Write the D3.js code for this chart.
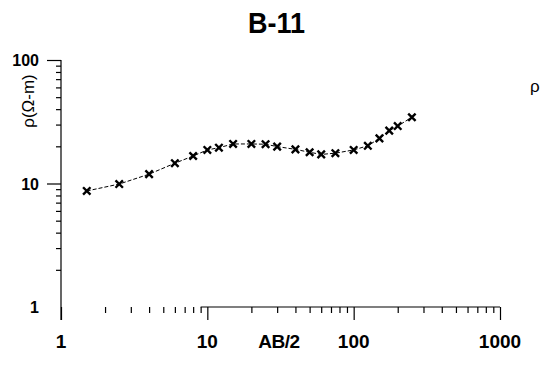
<!DOCTYPE html>
<html>
<head>
<meta charset="utf-8">
<script src="https://cdn.jsdelivr.net/npm/d3@7/dist/d3.min.js"></script>
<style>
  html, body { margin: 0; padding: 0; background: #fff; }
  svg { display: block; font-family: "Liberation Sans", Arial, Helvetica, sans-serif; }
</style>
</head>
<body>
<svg id="chart" width="541" height="367"></svg>
<script>
// ---- data ----
const title = "B-11";
const xLabel = "AB/2";
const yLabel = "ρ(Ω-m)";
const sideLabel = "ρ";
const abHalf = [1.5, 2.5, 4, 6, 8, 10, 12, 15, 20, 25, 30, 40, 50, 60, 75, 100, 125, 150, 175, 200, 250];
const rho    = [8.7, 9.9, 11.9, 14.6, 16.7, 18.7, 19.5, 20.9, 20.9, 20.8, 19.9, 18.9, 17.9, 17.2, 17.6, 18.7, 20.2, 23.2, 26.8, 29.2, 34.4];
const xMajorTicks = [1, 10, 100, 1000];
const xTickLabels = ["1", "10", "100", "1000"];
const yMajorTicks = [1, 10, 100];
const yTickLabels = ["1", "10", "100"];

// ---- layout ----
const svg = d3.select("#chart");
const x = d3.scaleLog().domain([1, 1000]).range([61, 500]);
const y = d3.scaleLog().domain([1, 100]).range([307, 60]);

const minorX = [];
for (let d = 1; d < 1000; d *= 10) for (let k = 2; k <= 9; k++) minorX.push(d * k);
const minorY = [];
for (let d = 1; d < 100; d *= 10) for (let k = 2; k <= 9; k++) minorY.push(d * k);

// x axis baseline (visible only from ~9 to 1000 in the scanned reference)
svg.append("line")
  .attr("x1", x(9)).attr("x2", x(1000))
  .attr("y1", y(1)).attr("y2", y(1))
  .attr("stroke", "#000").attr("stroke-width", 1.2);

const gxMinor = svg.append("g").attr("transform", `translate(0,${y(1)})`)
  .call(d3.axisBottom(x).tickValues(minorX).tickSize(6).tickFormat(""));
gxMinor.select(".domain").remove();
gxMinor.selectAll("line").attr("stroke", "#000").attr("stroke-width", 1.2);

const gxMajor = svg.append("g").attr("transform", `translate(0,${y(1)})`)
  .call(d3.axisBottom(x).tickValues(xMajorTicks).tickSize(13).tickFormat(""));
gxMajor.select(".domain").remove();
gxMajor.selectAll("line").attr("stroke", "#000").attr("stroke-width", 1.2);

svg.append("g").selectAll("text").data(xMajorTicks).join("text")
  .attr("x", d => x(d)).attr("y", 348)
  .attr("text-anchor", "middle")
  .attr("font-size", 19).attr("font-weight", "bold")
  .text((d, i) => xTickLabels[i]);

// y axis
svg.append("line")
  .attr("x1", x(1)).attr("x2", x(1))
  .attr("y1", y(100)).attr("y2", 320)
  .attr("stroke", "#000").attr("stroke-width", 1.2);

const gyMinor = svg.append("g").attr("transform", `translate(${x(1)},0)`)
  .call(d3.axisLeft(y).tickValues(minorY).tickSize(5).tickFormat(""));
gyMinor.select(".domain").remove();
gyMinor.selectAll("line").attr("stroke", "#000").attr("stroke-width", 1.2);

const gyMajor = svg.append("g").attr("transform", `translate(${x(1)},0)`)
  .call(d3.axisLeft(y).tickValues(yMajorTicks.slice(1)).tickSize(14).tickFormat(""));
gyMajor.select(".domain").remove();
gyMajor.selectAll("line").attr("stroke", "#000").attr("stroke-width", 1.2);

svg.append("g").selectAll("text").data(yMajorTicks).join("text")
  .attr("x", 39).attr("y", d => y(d) + 6)
  .attr("text-anchor", "end")
  .attr("font-size", 16).attr("font-weight", "bold")
  .text((d, i) => yTickLabels[i]);

// titles
svg.append("text").attr("x", 276.5).attr("y", 33)
  .attr("text-anchor", "middle").attr("font-size", 29).attr("font-weight", "bold")
  .attr("textLength", 57).attr("lengthAdjust", "spacingAndGlyphs")
  .text(title);

svg.append("text").attr("x", 279).attr("y", 348)
  .attr("text-anchor", "middle").attr("font-size", 19).attr("font-weight", "bold")
  .attr("letter-spacing", -0.5)
  .text(xLabel);

svg.append("text")
  .attr("transform", "translate(34,101) rotate(-90)")
  .attr("text-anchor", "middle").attr("font-size", 17)
  .text(yLabel);

svg.append("text").attr("x", 530).attr("y", 92)
  .attr("font-size", 17).text(sideLabel);

// data line + markers
const pts = abHalf.map((v, i) => [v, rho[i]]);
svg.append("path")
  .datum(pts)
  .attr("fill", "none").attr("stroke", "#000").attr("stroke-width", 1)
  .attr("stroke-dasharray", "4,2")
  .attr("d", d3.line().x(d => x(d[0])).y(d => y(d[1])));

const s = 3.7;
svg.append("g").selectAll("path").data(pts).join("path")
  .attr("d", d => {
    const cx = x(d[0]), cy = y(d[1]);
    return `M${cx - s},${cy - s}L${cx + s},${cy + s}M${cx - s},${cy + s}L${cx + s},${cy - s}`;
  })
  .attr("stroke", "#000").attr("stroke-width", 2.4).attr("fill", "none");
</script>
</body>
</html>
